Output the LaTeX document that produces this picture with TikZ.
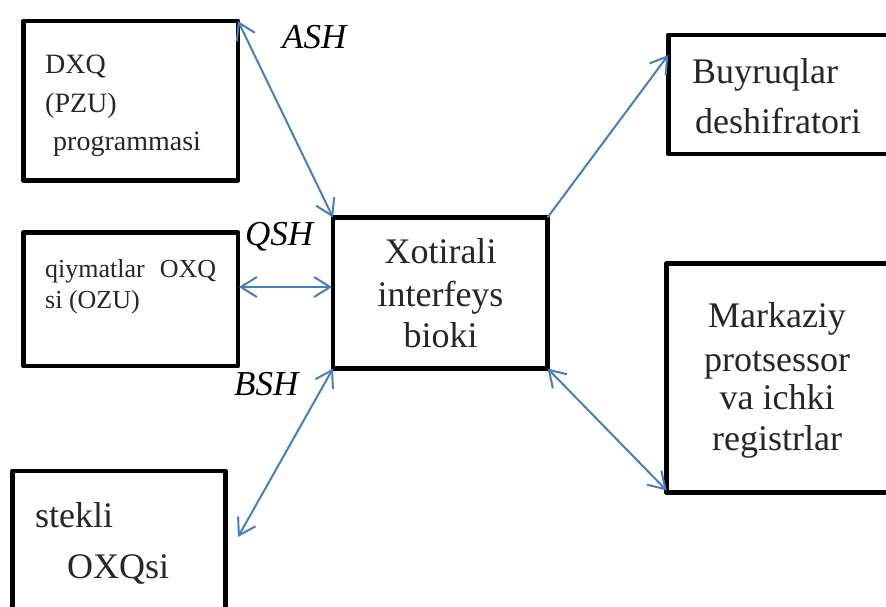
\documentclass[tikz,border=0pt]{standalone}
\usepackage{fontspec}
\setmainfont{Liberation Serif}
\usetikzlibrary{arrows.meta}
\definecolor{linkblue}{HTML}{4A7EBB}
\definecolor{txtgray}{HTML}{262626}
\begin{document}
\begin{tikzpicture}[x=1pt,y=-1pt,
  boxline/.style={draw=black,line width=4.8pt,line join=round},
  txt/.style={inner sep=0pt,text=txtgray},
  lft/.style={txt,anchor=base west},
  ctr/.style={txt,anchor=base},
  buslabel/.style={inner sep=0pt,anchor=base west,font=\fontsize{35}{40}\selectfont\itshape},
  link/.style={draw=linkblue,line width=2pt},
  tipB/.style={-{Straight Barb[length=16pt,width=20pt,line width=2pt]}},
  tipBB/.style={{Straight Barb[length=16pt,width=20pt,line width=2pt]}-{Straight Barb[length=16pt,width=20pt,line width=2pt]}}
]
\useasboundingbox (0,0) rectangle (886,606);
\fill[white] (0,0) rectangle (886,606);
% boxes
\draw[boxline] (23.5,21) rectangle (238,180.5);
\draw[boxline] (23.8,232.5) rectangle (238,366);
\draw[boxline] (12.5,471) rectangle (225.5,640);
\draw[boxline] (333,217.5) rectangle (547.5,368.5);
\draw[boxline] (668.3,35) rectangle (920,154);
\draw[boxline] (666.7,263.3) rectangle (920,492.5);
% named connector end points
\coordinate (dxqNE) at (238,21);
\coordinate (qiyE) at (239,287);
\coordinate (xotNW) at (333,217.5);
\coordinate (xotW) at (332,287);
\coordinate (xotSW) at (333,368.5);
\coordinate (xotNE) at (547.5,217.5);
\coordinate (xotSE) at (547.5,368.5);
\coordinate (stkEnd) at (238,537);
\coordinate (buyW) at (668.3,55);
\coordinate (marSW) at (666.7,490.5);
% texts
\begin{scope}[font=\fontsize{28}{32}\selectfont]
\node[lft] (t1) at (45,73) {DXQ};
\node[lft] (t2) at (45,112) {(PZU)};
\node[lft] (t3) at (53,150) {programmasi};
\end{scope}
\begin{scope}[font=\fontsize{26}{30}\selectfont]
\node[lft] (t4) at (45,277) {qiymatlar\hspace{15pt}OXQ};
\node[lft] (t5) at (45,308) {si (OZU)};
\end{scope}
\begin{scope}[font=\fontsize{36}{40}\selectfont]
\node[lft] (t6) at (35,527) {stekli};
\node[lft] (t7) at (67,578) {OXQsi};
\node[ctr] (t8) at (440.5,263) {Xotirali};
\node[ctr] (t9) at (440.5,306) {interfeys};
\node[ctr] (t10) at (440.5,347) {bioki};
\node[lft] (t11) at (692,83) {Buyruqlar};
\node[lft] (t12) at (695,133) {deshifratori};
\node[ctr] (t13) at (777,327) {Markaziy};
\node[ctr] (t14) at (777,371) {protsessor};
\node[ctr] (t15) at (777,409) {va ichki};
\node[ctr] (t16) at (777,450) {registrlar};
\end{scope}
\node[buslabel] (ash) at (282,48) {ASH};
\node[buslabel] (qsh) at (245,245) {QSH};
\node[buslabel] (bsh) at (234,395) {BSH};
% connectors
\draw[link,tipBB] (dxqNE) -- (xotNW);
\draw[link,tipBB] (qiyE) -- (xotW);
\draw[link,tipBB] (xotSW) -- (stkEnd);
\draw[link,tipB] (xotNE) -- (buyW);
\draw[link,tipBB] (xotSE) -- (marSW);
\end{tikzpicture}
\end{document}
